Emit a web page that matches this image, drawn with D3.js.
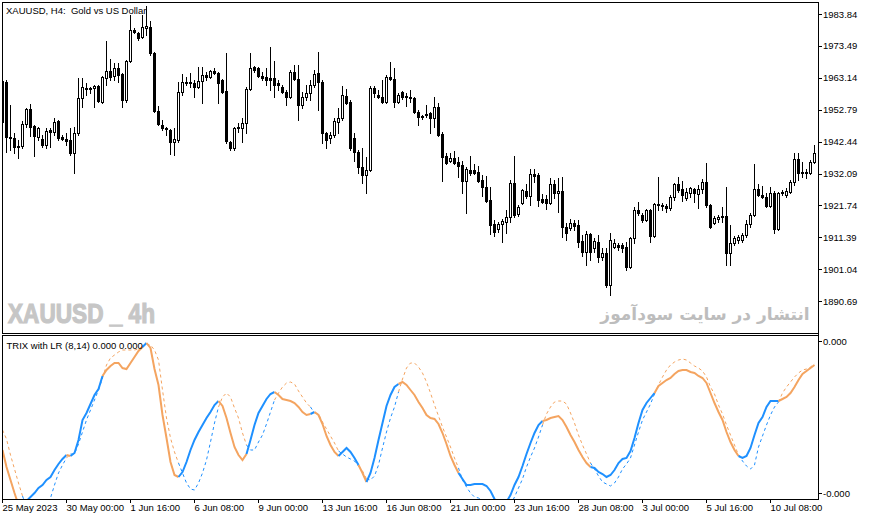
<!DOCTYPE html>
<html>
<head>
<meta charset="utf-8">
<script src="https://cdn.jsdelivr.net/npm/d3@7"></script>
<style>
    body { margin: 0; background: #fff; }
    text { font-family: "Liberation Sans", Arial, sans-serif; }
</style>
</head>
<body>
<div id="chart"></div>
<script>
// Time axis labels, one every 16 H4 bars
const timeLabels = ["25 May 2023", "30 May 00:00", "1 Jun 16:00", "6 Jun 08:00", "9 Jun 00:00",
    "13 Jun 16:00", "16 Jun 08:00", "21 Jun 00:00", "23 Jun 16:00", "28 Jun 08:00",
    "3 Jul 00:00", "5 Jul 16:00", "10 Jul 08:00"];

const priceTicks = [1983.84, 1973.49, 1963.14, 1952.79, 1942.44, 1932.09, 1921.74, 1911.39, 1901.04, 1890.69];

// XAUUSD H4 candles
const open = [1962.1, 1961.8, 1943.9, 1943.6, 1941.0, 1941.0, 1948.2, 1953.0, 1947.5, 1943.9,
    1943.3, 1941.3, 1946.2, 1945.6, 1949.1, 1943.9, 1943.3, 1943.0, 1938.8, 1945.2,
    1956.6, 1959.8, 1959.5, 1959.8, 1960.5, 1955.3, 1963.1, 1965.3, 1963.7, 1966.3,
    1964.4, 1955.9, 1968.6, 1978.6, 1977.7, 1976.4, 1979.3, 1979.6, 1971.2, 1952.4,
    1947.8, 1946.9, 1946.2, 1942.3, 1943.0, 1958.5, 1961.5, 1961.8, 1961.5, 1960.2,
    1962.1, 1964.1, 1963.4, 1965.3, 1964.7, 1962.4, 1958.9, 1942.3, 1940.4, 1946.9,
    1946.9, 1948.5, 1959.5, 1966.6, 1966.3, 1963.7, 1963.4, 1963.1, 1963.1, 1961.5,
    1960.2, 1958.5, 1956.9, 1965.0, 1962.8, 1954.3, 1956.9, 1958.2, 1960.8, 1964.7,
    1961.8, 1945.2, 1943.6, 1944.6, 1948.8, 1950.1, 1957.2, 1955.3, 1943.6, 1939.1,
    1934.2, 1931.6, 1933.2, 1959.8, 1957.6, 1956.9, 1955.3, 1963.4, 1962.8, 1955.3,
    1958.5, 1957.2, 1956.9, 1956.6, 1952.1, 1950.8, 1951.4, 1951.7, 1950.1, 1953.7,
    1944.9, 1937.8, 1936.2, 1937.1, 1935.8, 1934.9, 1929.7, 1933.2, 1933.2, 1932.6,
    1930.0, 1927.7, 1923.5, 1915.7, 1914.1, 1915.7, 1916.4, 1918.0, 1929.0, 1919.0,
    1922.5, 1926.4, 1924.8, 1931.9, 1931.6, 1923.8, 1923.8, 1922.5, 1928.7, 1925.8,
    1926.4, 1914.8, 1914.4, 1916.1, 1915.4, 1910.2, 1906.6, 1912.5, 1908.0, 1909.9,
    1905.0, 1906.3, 1895.9, 1908.3, 1908.9, 1908.9, 1908.3, 1901.8, 1911.2, 1920.3,
    1918.6, 1917.0, 1920.3, 1911.8, 1921.9, 1921.9, 1921.6, 1920.9, 1924.5, 1928.7,
    1927.1, 1924.2, 1925.8, 1927.1, 1925.4, 1927.1, 1929.3, 1921.9, 1916.1, 1917.3,
    1918.3, 1918.3, 1906.3, 1909.6, 1910.5, 1910.5, 1912.2, 1915.7, 1918.6, 1927.1,
    1925.1, 1924.5, 1921.6, 1925.8, 1914.1, 1925.8, 1925.1, 1926.1, 1929.3, 1936.8,
    1932.6, 1932.6, 1932.3, 1935.8];
const high = [1963.1, 1962.4, 1954.3, 1945.2, 1943.0, 1949.1, 1953.3, 1954.6, 1947.8, 1947.2,
    1944.6, 1946.9, 1946.9, 1950.1, 1949.5, 1944.6, 1945.2, 1946.9, 1947.2, 1963.1,
    1963.1, 1961.5, 1960.2, 1960.8, 1960.8, 1963.7, 1975.1, 1969.2, 1967.9, 1967.9,
    1964.7, 1968.9, 1983.5, 1979.3, 1978.0, 1983.5, 1986.4, 1981.6, 1971.5, 1954.0,
    1949.5, 1947.2, 1946.5, 1946.9, 1961.8, 1964.4, 1963.4, 1964.7, 1962.4, 1966.6,
    1966.6, 1965.0, 1965.7, 1966.3, 1965.0, 1962.8, 1971.2, 1942.6, 1947.2, 1948.5,
    1950.1, 1960.2, 1971.2, 1967.0, 1966.6, 1965.0, 1966.3, 1973.1, 1968.6, 1962.4,
    1960.8, 1959.2, 1965.7, 1967.3, 1967.3, 1958.5, 1960.8, 1962.4, 1965.7, 1971.5,
    1962.4, 1945.6, 1945.6, 1950.1, 1953.3, 1960.5, 1959.5, 1955.9, 1945.2, 1939.7,
    1940.4, 1937.5, 1960.5, 1960.5, 1959.2, 1962.4, 1964.1, 1968.3, 1966.3, 1958.2,
    1958.9, 1958.2, 1959.2, 1956.9, 1952.7, 1951.1, 1954.3, 1951.9, 1956.9, 1955.0,
    1945.6, 1938.8, 1938.8, 1939.4, 1937.5, 1936.2, 1934.2, 1937.8, 1935.2, 1934.5,
    1931.6, 1931.3, 1927.7, 1917.0, 1916.4, 1917.3, 1920.3, 1930.0, 1937.8, 1921.9,
    1927.1, 1928.7, 1933.6, 1933.6, 1932.3, 1925.4, 1925.1, 1930.6, 1930.0, 1930.6,
    1931.0, 1916.1, 1917.3, 1917.0, 1917.0, 1912.2, 1913.5, 1912.8, 1911.2, 1912.2,
    1907.9, 1907.9, 1912.8, 1910.8, 1909.6, 1909.6, 1909.9, 1911.5, 1921.2, 1922.9,
    1919.3, 1920.6, 1920.6, 1922.5, 1931.0, 1922.5, 1922.2, 1925.1, 1929.0, 1931.0,
    1929.7, 1927.4, 1927.7, 1927.4, 1928.4, 1930.3, 1935.5, 1922.2, 1918.3, 1918.6,
    1921.2, 1927.7, 1915.4, 1911.8, 1912.2, 1912.8, 1917.0, 1919.3, 1935.2, 1928.7,
    1928.0, 1925.8, 1927.7, 1926.4, 1926.1, 1926.7, 1927.4, 1930.0, 1938.8, 1938.8,
    1935.8, 1933.6, 1936.5, 1941.3];
const low = [1948.0, 1939.1, 1939.7, 1938.8, 1937.1, 1940.4, 1947.2, 1944.3, 1937.8, 1943.0,
    1940.7, 1940.4, 1940.7, 1944.6, 1943.0, 1943.0, 1941.3, 1938.1, 1932.3, 1944.6,
    1953.7, 1957.6, 1958.2, 1953.7, 1955.3, 1955.0, 1960.8, 1962.4, 1962.4, 1961.8,
    1953.7, 1955.3, 1968.3, 1977.7, 1975.4, 1976.1, 1977.0, 1970.5, 1952.1, 1947.8,
    1946.2, 1944.6, 1938.4, 1938.1, 1942.3, 1957.6, 1960.8, 1960.2, 1956.9, 1959.8,
    1955.0, 1962.4, 1963.1, 1964.4, 1955.0, 1958.2, 1942.0, 1939.7, 1939.7, 1945.6,
    1942.3, 1945.2, 1959.2, 1965.0, 1963.4, 1962.4, 1960.8, 1959.2, 1956.9, 1959.2,
    1958.2, 1954.3, 1956.6, 1962.4, 1949.5, 1953.3, 1955.9, 1955.9, 1960.2, 1952.7,
    1942.0, 1940.4, 1942.0, 1943.9, 1945.2, 1949.5, 1954.6, 1939.7, 1936.2, 1932.3,
    1929.0, 1925.8, 1932.9, 1956.9, 1956.6, 1955.0, 1955.0, 1962.4, 1953.7, 1955.0,
    1956.3, 1954.0, 1955.3, 1951.7, 1947.8, 1949.8, 1950.4, 1945.2, 1947.2, 1944.3,
    1929.7, 1935.2, 1935.8, 1935.2, 1931.0, 1925.8, 1919.3, 1931.6, 1932.0, 1929.3,
    1924.8, 1922.9, 1912.5, 1911.8, 1913.1, 1909.9, 1912.8, 1916.4, 1918.0, 1918.3,
    1922.2, 1924.2, 1921.9, 1929.3, 1921.6, 1922.5, 1920.6, 1922.2, 1924.2, 1919.6,
    1911.5, 1910.5, 1913.8, 1913.8, 1908.3, 1905.3, 1902.4, 1904.0, 1906.6, 1903.4,
    1904.0, 1895.3, 1892.7, 1907.9, 1907.3, 1906.6, 1900.8, 1901.4, 1909.6, 1918.6,
    1916.4, 1916.7, 1909.9, 1911.5, 1920.3, 1920.3, 1919.6, 1920.3, 1923.5, 1926.1,
    1923.2, 1923.5, 1924.5, 1922.9, 1920.9, 1925.8, 1921.2, 1914.4, 1915.7, 1916.4,
    1916.4, 1902.4, 1902.4, 1908.9, 1909.6, 1909.9, 1911.5, 1914.8, 1918.3, 1924.8,
    1924.2, 1921.2, 1921.2, 1912.8, 1913.8, 1925.1, 1924.5, 1925.8, 1928.4, 1930.0,
    1931.0, 1930.6, 1931.9, 1935.5];
const close = [1948.8, 1943.9, 1943.6, 1940.7, 1940.8, 1948.2, 1953.0, 1947.2, 1944.3, 1946.9,
    1941.3, 1945.9, 1945.6, 1948.8, 1943.6, 1943.3, 1942.6, 1938.8, 1945.2, 1956.6,
    1960.2, 1959.5, 1959.8, 1960.5, 1955.6, 1963.4, 1965.3, 1963.4, 1966.3, 1964.1,
    1955.9, 1968.6, 1978.6, 1978.0, 1976.1, 1979.6, 1980.0, 1971.2, 1952.4, 1948.2,
    1946.9, 1946.5, 1942.3, 1943.3, 1958.5, 1961.8, 1961.8, 1961.5, 1960.2, 1962.1,
    1964.1, 1963.4, 1965.3, 1964.7, 1961.5, 1958.5, 1942.6, 1940.4, 1946.9, 1947.2,
    1948.5, 1959.5, 1966.3, 1965.7, 1963.7, 1963.1, 1962.4, 1962.4, 1960.8, 1960.8,
    1958.5, 1956.9, 1965.0, 1962.8, 1954.3, 1956.9, 1958.2, 1960.8, 1964.4, 1961.8,
    1945.2, 1943.0, 1944.6, 1949.1, 1950.1, 1957.6, 1955.0, 1940.4, 1939.1, 1934.2,
    1931.6, 1933.2, 1959.8, 1958.2, 1956.9, 1955.3, 1963.4, 1962.8, 1955.3, 1957.6,
    1956.9, 1956.9, 1956.6, 1952.1, 1950.4, 1950.4, 1951.1, 1950.1, 1953.7, 1944.6,
    1937.5, 1935.5, 1937.1, 1935.5, 1934.5, 1929.7, 1933.6, 1932.3, 1932.3, 1929.7,
    1927.7, 1923.2, 1915.4, 1913.1, 1915.7, 1916.7, 1918.0, 1929.0, 1918.6, 1921.2,
    1926.7, 1924.8, 1931.9, 1931.3, 1923.5, 1922.9, 1922.5, 1928.7, 1925.8, 1926.4,
    1914.8, 1912.8, 1916.1, 1915.1, 1909.9, 1906.6, 1912.5, 1906.6, 1910.2, 1905.0,
    1906.3, 1895.9, 1910.5, 1909.6, 1908.3, 1907.9, 1901.8, 1911.2, 1920.3, 1919.3,
    1917.0, 1920.3, 1911.8, 1922.2, 1922.2, 1921.6, 1920.9, 1924.5, 1928.7, 1926.7,
    1925.1, 1926.1, 1927.4, 1925.8, 1927.1, 1929.3, 1921.9, 1914.8, 1917.7, 1918.0,
    1918.0, 1906.3, 1909.6, 1911.2, 1911.5, 1912.2, 1915.7, 1918.6, 1927.1, 1925.1,
    1924.5, 1921.6, 1925.8, 1914.1, 1925.8, 1926.1, 1926.4, 1929.3, 1936.8, 1932.3,
    1932.3, 1932.3, 1935.8, 1938.8];

// TRIX (8) and its linear regression line (14), in units of 1e-5
const trix = [-10.9, -12.6, -13.9, -15.2, -16.4, -17.0, -16.0, -15.6, -15.2, -14.7,
    -14.4, -13.9, -13.6, -12.9, -12.3, -11.8, -11.4, -11.5, -11.2, -9.9,
    -7.9, -7.2, -6.3, -5.4, -4.8, -3.5, -2.9, -2.5, -2.2, -2.2,
    -2.7, -2.8, -2.2, -1.6, -1.0, -0.6, -0.2, -0.7, -2.8, -4.4,
    -7.4, -9.7, -12.1, -13.4, -13.6, -13.1, -12.1, -10.9, -9.9, -9.1,
    -8.4, -7.7, -7.1, -6.4, -6.0, -6.5, -7.7, -9.2, -10.6, -11.4,
    -11.9, -11.3, -9.9, -8.4, -7.2, -6.5, -5.8, -5.3, -5.1, -5.4,
    -5.8, -5.9, -6.0, -6.2, -6.6, -7.1, -7.4, -7.3, -7.1, -7.4,
    -8.3, -9.5, -10.4, -11.1, -11.5, -11.1, -10.7, -11.1, -11.7, -12.4,
    -13.2, -14.1, -13.2, -11.7, -9.9, -8.2, -6.5, -5.4, -4.6, -4.3,
    -4.1, -4.4, -4.9, -5.4, -6.1, -6.7, -7.4, -7.7, -7.8, -8.3,
    -9.2, -10.3, -11.5, -12.4, -13.2, -13.8, -14.4, -14.4, -14.3, -14.3,
    -14.3, -14.5, -15.0, -15.8, -16.6, -16.6, -16.1, -15.4, -14.4, -13.6,
    -12.5, -11.3, -10.2, -9.2, -8.4, -8.0, -7.9, -7.7, -7.6, -7.5,
    -7.9, -8.6, -9.4, -10.1, -10.9, -11.6, -12.2, -12.6, -12.7, -13.1,
    -13.3, -13.6, -13.4, -12.9, -12.2, -11.8, -11.7, -11.0, -9.7, -8.2,
    -6.9, -6.2, -5.7, -5.2, -4.5, -4.2, -3.9, -3.7, -3.3, -3.0,
    -2.9, -2.9, -3.1, -3.2, -3.5, -3.7, -4.2, -5.2, -6.2, -7.1,
    -7.9, -9.1, -10.1, -10.9, -11.5, -11.7, -11.5, -10.7, -9.4, -8.2,
    -7.6, -6.6, -6.0, -6.0, -6.0, -5.8, -5.6, -5.2, -4.6, -3.9,
    -3.3, -3.0, -2.7, -2.4];
const signal = [-8.9, -9.8, -11.4, -12.8, -14.2, -15.5, -16.6, -17.2, -17.4, -17.1,
    -16.6, -16.1, -15.7, -14.4, -13.2, -12.4, -11.7, -11.3, -11.3, -10.3,
    -9.1, -7.9, -6.9, -5.9, -4.9, -3.7, -2.4, -1.7, -1.4, -1.1,
    -0.9, -0.9, -0.9, -0.9, -0.8, -0.5, -0.3, -0.4, -0.9, -1.9,
    -4.9, -7.7, -9.7, -11.1, -12.2, -13.2, -14.2, -14.8, -14.9, -14.2,
    -13.2, -11.9, -10.1, -8.2, -6.6, -5.6, -5.2, -5.6, -6.7, -7.7,
    -9.2, -10.4, -10.9, -10.9, -10.1, -9.4, -8.3, -7.1, -5.9, -5.2,
    -4.6, -4.2, -4.1, -4.3, -5.0, -5.6, -6.2, -6.6, -7.2, -7.3,
    -8.1, -8.8, -9.5, -10.2, -11.0, -11.3, -11.6, -11.8, -12.0, -12.5,
    -13.0, -13.8, -13.9, -13.5, -12.4, -10.7, -9.1, -7.7, -6.6, -5.1,
    -3.8, -2.7, -2.2, -2.2, -2.6, -3.2, -4.1, -5.2, -6.4, -7.5,
    -8.6, -9.6, -10.6, -11.7, -12.7, -13.9, -14.6, -15.2, -15.6, -15.7,
    -15.9, -16.2, -16.7, -17.2, -17.6, -17.6, -17.1, -16.4, -15.6, -14.7,
    -13.8, -12.6, -11.6, -10.7, -9.6, -8.4, -7.3, -6.6, -6.1, -6.0,
    -6.0, -6.3, -7.2, -8.2, -9.4, -10.4, -11.3, -12.2, -12.8, -13.5,
    -14.1, -14.3, -14.5, -14.2, -13.6, -12.8, -12.3, -11.7, -10.4, -9.1,
    -7.9, -7.1, -6.3, -5.3, -4.4, -3.6, -2.9, -2.4, -2.1, -1.9,
    -1.8, -1.9, -2.2, -2.5, -2.7, -3.0, -3.6, -4.6, -5.3, -6.4,
    -7.3, -8.4, -9.4, -10.4, -11.4, -12.0, -12.5, -12.8, -12.4, -10.6,
    -9.5, -8.4, -7.4, -6.6, -6.1, -5.2, -4.6, -4.1, -3.6, -3.2,
    -2.9, -2.8, -2.6, -2.3];

// indicator scale labels (max / min of the window)
const indicatorTicks = [0, -15.2];

const width = 871, height = 520;
const upColor = "#1e90ff", downColor = "#f4a460";

const svg = d3.select("#chart")
    .append("svg")
    .attr("width", width)
    .attr("height", height);

const n = close.length;
const barsPerLabel = 16;

// Scales
const x = d3.scaleLinear().domain([0, n - 1]).range([2, 2 + 4 * (n - 1)]);
const y = d3.scaleLinear()
    .domain([priceTicks[priceTicks.length - 1], priceTicks[0]])
    .range([301.2, 14]);
const yInd = d3.scaleLinear()
    .domain([indicatorTicks[1], indicatorTicks[0]])
    .range([493, 341]);

// Clip areas for both panes
const defs = svg.append("defs");
defs.append("clipPath").attr("id", "clipMain")
    .append("rect").attr("x", 3).attr("y", 3).attr("width", 815).attr("height", 330);
defs.append("clipPath").attr("id", "clipInd")
    .append("rect").attr("x", 3).attr("y", 336).attr("width", 815).attr("height", 163);

// Watermarks (drawn first, under the candles)
svg.append("text")
    .attr("x", 8)
    .attr("y", 323)
    .attr("textLength", 147)
    .attr("lengthAdjust", "spacingAndGlyphs")
    .style("font-size", "27px")
    .style("font-weight", "bold")
    .style("fill", "#c6c6c6")
    .style("stroke", "#c6c6c6")
    .style("stroke-width", 1.2)
    .text("XAUUSD _ 4h");

svg.append("text")
    .attr("x", 705)
    .attr("y", 320)
    .attr("text-anchor", "middle")
    .style("font-family", "'DejaVu Sans', sans-serif")
    .style("font-size", "17px")
    .style("font-weight", "bold")
    .style("fill", "#bdbdbd")
    .text("انتشار در سایت سودآموز");

// Candles
const candles = d3.range(n).map(i => ({ i, o: open[i], h: high[i], l: low[i], c: close[i] }));
const cg = svg.append("g")
    .attr("clip-path", "url(#clipMain)")
    .attr("shape-rendering", "crispEdges");

cg.selectAll(".wick")
    .data(candles)
    .join("line")
    .attr("class", "wick")
    .attr("x1", d => Math.round(x(d.i)) + 0.5)
    .attr("x2", d => Math.round(x(d.i)) + 0.5)
    .attr("y1", d => Math.round(y(d.h)))
    .attr("y2", d => Math.round(y(d.l)) + 1)
    .attr("stroke", "#000");

cg.selectAll(".body")
    .data(candles)
    .join("rect")
    .attr("class", "body")
    .each(function (d) {
        const top = Math.round(y(Math.max(d.o, d.c)));
        const bot = Math.round(y(Math.min(d.o, d.c)));
        const cx = Math.round(x(d.i));
        const r = d3.select(this);
        if (bot - top < 1) {
            // doji: flat bar
            r.attr("x", cx - 1).attr("y", top).attr("width", 3).attr("height", 1)
                .attr("fill", "#000");
        } else {
            r.attr("x", cx - 0.5).attr("y", top + 0.5).attr("width", 2).attr("height", bot - top)
                .attr("fill", d.c >= d.o ? "#fff" : "#000")
                .attr("stroke", "#000");
        }
    });

// Indicator lines, colored by TRIX above / below its LR line
const pts = d3.range(n).map(i => ({ i, t: trix[i], s: signal[i], up: trix[i] >= signal[i] }));
const runs = [];
for (let i = 1; i < n; i++) {
    const up = pts[i].up;
    if (!runs.length || runs[runs.length - 1].up !== up) runs.push({ up, pts: [pts[i - 1]] });
    runs[runs.length - 1].pts.push(pts[i]);
}

const ig = svg.append("g").attr("clip-path", "url(#clipInd)");
const lineSig = d3.line().x(d => x(d.i) + 0.5).y(d => yInd(d.s));
const lineTrix = d3.line().x(d => x(d.i) + 0.5).y(d => yInd(d.t));

ig.selectAll(".sig")
    .data(runs)
    .join("path")
    .attr("class", "sig")
    .attr("d", r => lineSig(r.pts))
    .attr("fill", "none")
    .attr("stroke", r => r.up ? upColor : downColor)
    .attr("stroke-width", 1)
    .attr("stroke-dasharray", "3,3");

ig.selectAll(".trix")
    .data(runs)
    .join("path")
    .attr("class", "trix")
    .attr("d", r => lineTrix(r.pts))
    .attr("fill", "none")
    .attr("stroke", r => r.up ? upColor : downColor)
    .attr("stroke-width", 2);

// Frames
const frame = svg.append("g")
    .attr("fill", "none")
    .attr("stroke", "#000")
    .attr("shape-rendering", "crispEdges");
frame.append("rect").attr("x", 2.5).attr("y", 2.5).attr("width", 816).attr("height", 331);
frame.append("rect").attr("x", 2.5).attr("y", 335.5).attr("width", 816).attr("height", 164);
frame.append("line").attr("x1", 818.5).attr("x2", 818.5).attr("y1", 2).attr("y2", 500);

// Price axis
const priceAxis = svg.append("g")
    .attr("transform", "translate(818,0)")
    .call(d3.axisRight(y)
        .tickValues(priceTicks)
        .tickFormat(d3.format(".2f"))
        .tickSizeInner(4)
        .tickSizeOuter(0)
        .tickPadding(1));
priceAxis.select(".domain").remove();

// Indicator axis
const indAxis = svg.append("g")
    .attr("transform", "translate(818,0)")
    .call(d3.axisRight(yInd)
        .tickValues(indicatorTicks)
        .tickFormat(d => (d * 1e-5).toFixed(3))
        .tickSizeInner(4)
        .tickSizeOuter(0)
        .tickPadding(1));
indAxis.select(".domain").remove();

// Time axis
const timeAxis = svg.append("g")
    .attr("transform", "translate(0,499)")
    .call(d3.axisBottom(x)
        .tickValues(timeLabels.map((_, k) => k * barsPerLabel))
        .tickFormat(i => timeLabels[i / barsPerLabel])
        .tickSizeInner(4)
        .tickSizeOuter(0)
        .tickPadding(1));
timeAxis.select(".domain").remove();
timeAxis.selectAll("text").attr("text-anchor", "start").attr("x", 0);

svg.selectAll(".tick text")
    .style("font-family", "'Liberation Sans', Arial, sans-serif")
    .style("font-size", "9.5px")
    .style("fill", "#000");
svg.selectAll(".tick line").attr("shape-rendering", "crispEdges");

// Pane captions
svg.append("text")
    .attr("x", 6)
    .attr("y", 13.5)
    .style("font-size", "9.5px")
    .style("white-space", "pre")
    .text("XAUUSD, H4:  Gold vs US Dollar");

svg.append("text")
    .attr("x", 6.5)
    .attr("y", 348.5)
    .style("font-size", "9.5px")
    .text("TRIX with LR (8,14) 0.000 0.000");
</script>
</body>
</html>
